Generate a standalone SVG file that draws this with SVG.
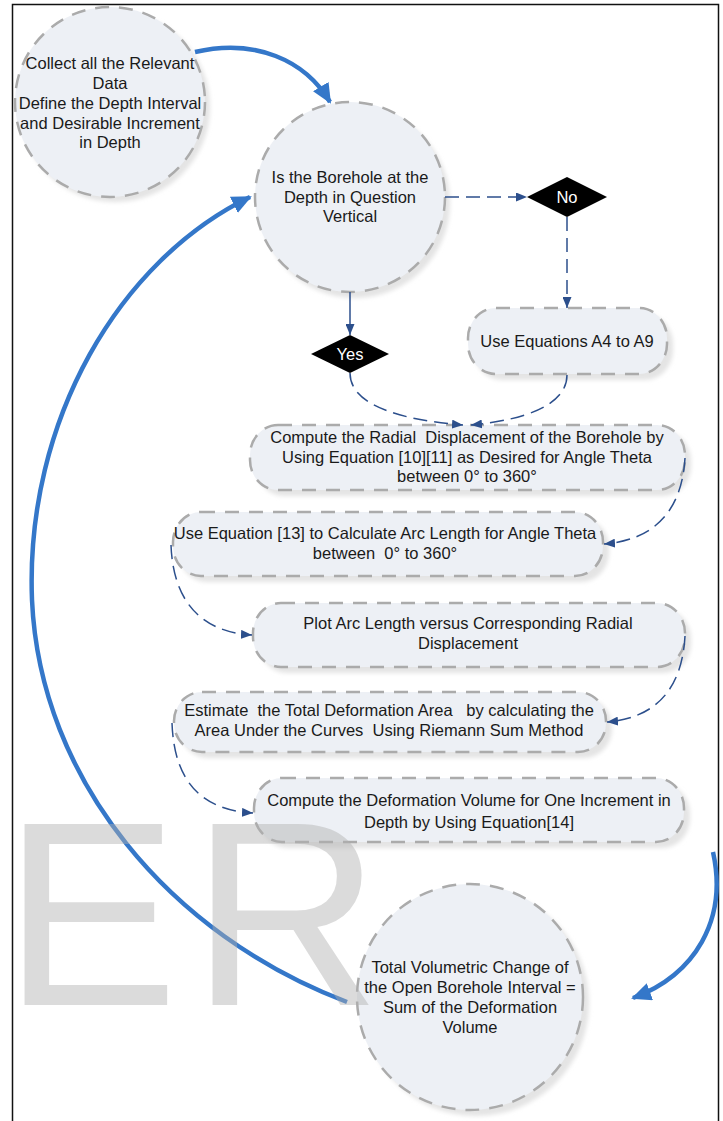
<svg xmlns="http://www.w3.org/2000/svg" width="723" height="1121" viewBox="0 0 723 1121">
<defs>
<style>
.node{fill:#edf0f5;stroke:#ababab;stroke-width:2.5;stroke-dasharray:14 10}
.shadow{fill:#e4e4e4;filter:url(#blur)}
.txt{font-family:"Liberation Sans",Arial,sans-serif;font-size:16.5px;fill:#1a1a1a;text-anchor:middle;white-space:pre}
.dtxt{font-family:"Liberation Sans",Arial,sans-serif;font-size:16.5px;fill:#ffffff;text-anchor:middle}
.dia{fill:#000000}
.conn{fill:none;stroke:#2c4f8c;stroke-width:1.5}
.dash{stroke-dasharray:14 7}
.blue{fill:none;stroke:#3477c9;stroke-width:4.5}
</style>
<filter id="blur" x="-10%" y="-10%" width="120%" height="120%"><feGaussianBlur stdDeviation="2"/></filter>
<marker id="ah" markerUnits="userSpaceOnUse" markerWidth="11" markerHeight="9" refX="11" refY="4.5" orient="auto"><path d="M0,0 L11,4.5 L0,9 z" fill="#2c4f8c"/></marker>
<marker id="bh" markerUnits="userSpaceOnUse" markerWidth="20" markerHeight="18" refX="18" refY="9" orient="auto"><path d="M0,0 L20,9 L0,18 z" fill="#3477c9"/></marker>
</defs>
<rect x="12.5" y="4.5" width="706" height="1140" fill="#ffffff" stroke="#111111" stroke-width="1.5"/>

<g id="n1">
<circle class="shadow" cx="115" cy="107" r="95"/>
<circle class="node" cx="110" cy="102" r="95"/>
<text class="txt"><tspan x="110" y="69">Collect all the Relevant</tspan><tspan x="110" y="89">Data</tspan><tspan x="110" y="109">Define the Depth Interval</tspan><tspan x="110" y="129">and Desirable Increment</tspan><tspan x="110" y="148">in Depth</tspan></text>
</g>
<g id="n2">
<circle class="shadow" cx="355" cy="203" r="95"/>
<circle class="node" cx="350" cy="197" r="95"/>
<text class="txt"><tspan x="350" y="183">Is the Borehole at the</tspan><tspan x="350" y="203">Depth in Question</tspan><tspan x="350" y="222">Vertical</tspan></text>
</g>
<g id="no">
<path class="dia" d="M527,197 L567,177 L607,197 L567,217 z"/>
<text class="dtxt" x="567" y="203">No</text>
</g>
<g id="yes">
<path class="dia" d="M311,354 L350,335 L389,354 L350,373 z"/>
<text class="dtxt" x="350" y="360">Yes</text>
</g>
<g id="n3">
<rect class="shadow" x="474" y="314" width="199" height="66" rx="28" ry="30"/>
<rect class="node" x="468" y="308" width="199" height="66" rx="28" ry="30"/>
<text class="txt" x="567" y="347">Use Equations A4 to A9</text>
</g>
<g id="n4">
<rect class="shadow" x="256" y="431" width="435" height="65" rx="28" ry="30"/>
<rect class="node" x="250" y="425" width="435" height="65" rx="28" ry="30"/>
<text class="txt"><tspan x="467" y="443">Compute the Radial  Displacement of the Borehole by</tspan><tspan x="467" y="463">Using Equation [10][11] as Desired for Angle Theta</tspan><tspan x="467" y="482">between 0° to 360°</tspan></text>
</g>
<g id="n5">
<rect class="shadow" x="179" y="518" width="430" height="64" rx="28" ry="30"/>
<rect class="node" x="173" y="512" width="430" height="64" rx="28" ry="30"/>
<text class="txt"><tspan x="385" y="539">Use Equation [13] to Calculate Arc Length for Angle Theta</tspan><tspan x="385" y="559">between  0° to 360°</tspan></text>
</g>
<g id="n6">
<rect class="shadow" x="259" y="609" width="432" height="64" rx="28" ry="30"/>
<rect class="node" x="253" y="603" width="432" height="64" rx="28" ry="30"/>
<text class="txt"><tspan x="468" y="629">Plot Arc Length versus Corresponding Radial</tspan><tspan x="468" y="649">Displacement</tspan></text>
</g>
<g id="n7">
<rect class="shadow" x="180" y="698" width="432" height="60" rx="28" ry="29"/>
<rect class="node" x="174" y="692" width="432" height="60" rx="28" ry="29"/>
<text class="txt"><tspan x="389" y="716">Estimate  the Total Deformation Area   by calculating the</tspan><tspan x="389" y="736">Area Under the Curves  Using Riemann Sum Method</tspan></text>
</g>
<g id="n8">
<rect class="shadow" x="260" y="784" width="430" height="64" rx="28" ry="30"/>
<rect class="node" x="254" y="778" width="430" height="64" rx="28" ry="30"/>
<text class="txt"><tspan x="469" y="806">Compute the Deformation Volume for One Increment in</tspan><tspan x="469" y="828">Depth by Using Equation[14]</tspan></text>
</g>
<g id="n9">
<circle class="shadow" cx="476" cy="1003" r="113"/>
<circle class="node" cx="470" cy="997" r="113"/>
<text class="txt"><tspan x="470" y="973">Total Volumetric Change of</tspan><tspan x="470" y="993">the Open Borehole Interval =</tspan><tspan x="470" y="1013">Sum of the Deformation</tspan><tspan x="470" y="1033">Volume</tspan></text>
</g>

<g id="connectors">
<path class="conn" d="M350,292 L350,335" marker-end="url(#ah)"/>
<path class="conn dash" d="M445,197 L527,197" marker-end="url(#ah)"/>
<path class="conn dash" d="M567,217 L567,308" marker-end="url(#ah)"/>
<path class="conn dash" d="M350,373 C350,405 400,420 463,425" marker-end="url(#ah)"/>
<path class="conn dash" d="M567,375 C567,405 525,420 471,425" marker-end="url(#ah)"/>
<path class="conn dash" d="M685,458 C682,510 655,540 604,544" marker-end="url(#ah)"/>
<path class="conn dash" d="M171,545 C173,600 200,632 252,635" marker-end="url(#ah)"/>
<path class="conn dash" d="M685,636 C682,690 655,718 607,722" marker-end="url(#ah)"/>
<path class="conn dash" d="M172,723 C174,780 200,810 253,813" marker-end="url(#ah)"/>
<path class="blue" d="M195,52 C255,38 305,60 330,102" marker-end="url(#bh)"/>
<path class="blue" d="M713,852 C728,920 695,975 633,998" marker-end="url(#bh)"/>
<path class="blue" d="M347,1002 C170,935 40,780 32,600 C25,420 120,260 250,197" marker-end="url(#bh)"/>
</g>

<text font-family="&quot;Liberation Sans&quot;,Arial,sans-serif" font-size="263" fill="#b0b0b0" fill-opacity="0.45" x="3 191" y="1005">ER</text>
</svg>
